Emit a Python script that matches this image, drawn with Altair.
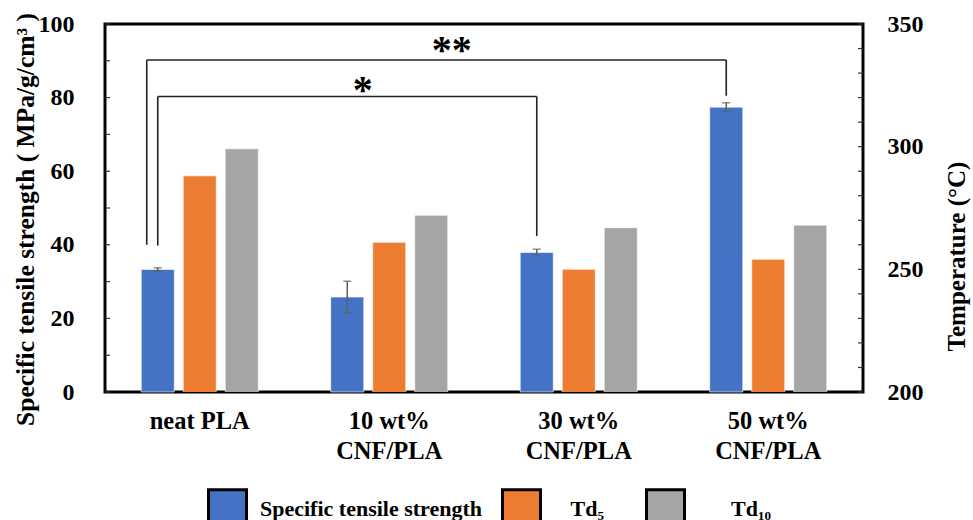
import altair as alt
import pandas as pd

# ---------------- data ----------------
categories = ["neat PLA", "10 wt%|CNF/PLA", "30 wt%|CNF/PLA", "50 wt%|CNF/PLA"]
series_names = ["Specific tensile strength", "Td₅", "Td₁₀"]
series_colors = ["#4472C4", "#ED7D31", "#A5A5A5"]

strength = [33.3, 25.8, 37.9, 77.4]
strength_err = [0.45, 4.3, 0.9, 1.2]
td5 = [288.1, 261.0, 250.0, 254.1]
td10 = [299.1, 272.0, 267.0, 268.0]

left_tick_values = [0, 10, 20, 30, 40, 50, 60, 70, 80, 90, 100]
left_label_values = [0, 20, 40, 60, 80, 100]
right_tick_values = [200, 210, 220, 230, 240, 250, 260, 270, 280, 290, 300, 310, 320, 330, 340, 350]
right_label_values = [200, 250, 300, 350]

bracket_from = ["neat PLA", "neat PLA"]
bracket_to = ["50 wt%|CNF/PLA", "30 wt%|CNF/PLA"]
bracket_top = [90.2, 80.3]
bracket_left_base = [40.0, 39.8]
bracket_right_base = [80.5, 42.4]
bracket_label = ["**", "*"]

# ---------------- layout / style ----------------
FONT = "Liberation Serif"
W, H = 758, 368
PAD_L, PAD_T = 105, 24
BAR_STEP = 42            # distance between bar centres inside a group (px)
bracket_left_dx = [-53, -42]
bracket_label_dx = [252, 163]
bracket_label_dy = [-3, 1]

blue_df = pd.DataFrame({
    "category": categories,
    "series": series_names[0],
    "value": strength,
    "err": strength_err,
})
td_df = pd.DataFrame({
    "category": categories * 2,
    "series": [series_names[1]] * 4 + [series_names[2]] * 4,
    "value": td5 + td10,
})
br_df = pd.DataFrame({
    "from": bracket_from,
    "to": bracket_to,
    "top": bracket_top,
    "lbase": bracket_left_base,
    "rbase": bracket_right_base,
    "label": bracket_label,
})
lt_df = pd.DataFrame({"v": left_tick_values})
rt_df = pd.DataFrame({"v": right_tick_values})

# legend label padding (zero-width space guards so the no-break spaces are not trimmed)
nb = "\u00a0"
zw = "\u200b"
legend = alt.Legend(
    title=None, orient="none", direction="horizontal",
    legendX=207 - PAD_L, legendY=488 - PAD_T,
    symbolType="square", symbolSize=38 * 38,
    symbolStrokeColor="black", symbolStrokeWidth=3,
    labelFont=FONT, labelFontSize=22, labelFontWeight="bold", labelColor="black",
    labelOffset=12, columnPadding=13, labelLimit=500, padding=0,
    labelExpr=(
        f"datum.label == '{series_names[1]}' ? '{zw}{nb*3}{series_names[1]}{nb*4}{zw}' : "
        f"datum.label == '{series_names[2]}' ? '{zw}{nb*6}{series_names[2]}' : datum.label"
    ),
)

x_scale = alt.Scale(domain=categories, paddingInner=0, paddingOuter=0)
x_axis = alt.Axis(
    title=None, labelExpr="split(datum.label, '|')", labelFont=FONT,
    labelFontSize=24.5, labelFontWeight="bold", labelColor="black",
    labelLineHeight=30, labelPadding=17, ticks=False, domain=False,
    labelAngle=0, labelLimit=300, grid=False,
)
x_enc = alt.X("category:N", sort=categories, scale=x_scale, axis=x_axis)
xoff_enc = alt.XOffset(
    "series:N", sort=series_names,
    scale=alt.Scale(domain=series_names, paddingInner=0.214, paddingOuter=0.863),
)
color_scale = alt.Scale(domain=series_names, range=series_colors)

y_left_scale = alt.Scale(domain=[0, 100], nice=False)
y_left_axis = alt.Axis(
    values=left_label_values, title="Specific tensile strength ( MPa/g/cm³ )",
    labelFont=FONT, labelFontSize=24, labelFontWeight="bold", labelColor="black",
    labelPadding=31, ticks=False, domain=False, grid=False,
    titleFont=FONT, titleFontSize=25.5, titleFontWeight="bold", titleColor="black",
    titlePadding=0, titleY=195,
)

# ---------------- left group ----------------
blue_bars = alt.Chart(blue_df).mark_bar(
    stroke="white", strokeWidth=1, strokeOpacity=0.6
).encode(
    x=x_enc, xOffset=xoff_enc,
    y=alt.Y("value:Q", scale=y_left_scale, axis=y_left_axis),
    color=alt.Color("series:N", sort=series_names, scale=color_scale, legend=legend),
)

x_plain = alt.X("category:N", sort=categories, scale=x_scale)
err_base = alt.Chart(blue_df).transform_calculate(
    lo="datum.value - datum.err", hi="datum.value + datum.err"
)
err_rule = err_base.mark_rule(color="#606060", strokeWidth=1.5).encode(
    x=x_plain, xOffset=xoff_enc,
    y=alt.Y("lo:Q", scale=y_left_scale),
    y2="hi:Q",
)
err_lo = err_base.mark_tick(color="#606060", thickness=1.5, size=8).encode(
    x=x_plain, xOffset=xoff_enc,
    y=alt.Y("lo:Q", scale=y_left_scale),
)
err_hi = err_base.mark_tick(color="#606060", thickness=1.5, size=8).encode(
    x=x_plain, xOffset=xoff_enc,
    y=alt.Y("hi:Q", scale=y_left_scale),
)

bracket_layers = []
for i in range(len(bracket_from)):
    d = br_df.iloc[[i]]
    bx = alt.Chart(d)
    bracket_layers.append(
        bx.mark_rule(color="#222222", strokeWidth=1.6,
                     xOffset=bracket_left_dx[i], x2Offset=-BAR_STEP).encode(
            x=alt.X("from:N", scale=x_scale),
            x2="to:N",
            y=alt.Y("top:Q", scale=y_left_scale),
        )
    )
    bracket_layers.append(
        bx.mark_rule(color="#222222", strokeWidth=1.6, xOffset=bracket_left_dx[i]).encode(
            x=alt.X("from:N", scale=x_scale),
            y=alt.Y("lbase:Q", scale=y_left_scale),
            y2="top:Q",
        )
    )
    bracket_layers.append(
        bx.mark_rule(color="#222222", strokeWidth=1.6, xOffset=-BAR_STEP).encode(
            x=alt.X("to:N", scale=x_scale),
            y=alt.Y("rbase:Q", scale=y_left_scale),
            y2="top:Q",
        )
    )
    bracket_layers.append(
        bx.mark_text(font=FONT, fontSize=40, fontWeight="bold", color="black",
                     baseline="bottom",
                     dx=bracket_label_dx[i], dy=bracket_label_dy[i] + 14).encode(
            x=alt.X("from:N", scale=x_scale),
            y=alt.Y("top:Q", scale=y_left_scale),
            text="label:N",
        )
    )

left_ticks = alt.Chart(lt_df).mark_rule(color="#333333", strokeWidth=1.2).encode(
    y=alt.Y("v:Q", scale=y_left_scale),
    x=alt.value(0), x2=alt.value(5),
)

left_group = alt.layer(blue_bars, err_rule, err_lo, err_hi, *bracket_layers, left_ticks)

# ---------------- right group ----------------
y_right_scale = alt.Scale(domain=[200, 350], nice=False, zero=False)
y_right_axis = alt.Axis(
    orient="right", values=right_label_values, title="Temperature (°C)",
    labelFont=FONT, labelFontSize=24, labelFontWeight="bold", labelColor="black",
    labelPadding=24, ticks=False, domain=False, grid=False,
    titleFont=FONT, titleFontSize=25, titleFontWeight="bold", titleColor="black",
    titleAngle=270, titleBaseline="top", titlePadding=21, titleY=232,
)

td_bars = alt.Chart(td_df).mark_bar(
    stroke="white", strokeWidth=1, strokeOpacity=0.6, clip=True
).encode(
    x=x_enc, xOffset=xoff_enc,
    y=alt.Y("value:Q", scale=y_right_scale, axis=y_right_axis),
    color=alt.Color("series:N", sort=series_names, scale=color_scale, legend=None),
)
right_ticks = alt.Chart(rt_df).mark_rule(color="#333333", strokeWidth=1.2).encode(
    y=alt.Y("v:Q", scale=y_right_scale),
    x=alt.value(W - 5), x2=alt.value(W),
)
right_group = alt.layer(td_bars, right_ticks)

chart = alt.layer(left_group, right_group).resolve_scale(
    y="independent"
).properties(
    width=W, height=H,
    autosize=alt.AutoSizeParams(type="none"),
    padding={"left": PAD_L, "top": PAD_T, "right": 973 - PAD_L - W, "bottom": 520 - PAD_T - H},
    background="white",
).configure_view(stroke="black", strokeWidth=3)

chart.save("out.html", embed_options={"renderer": "svg", "actions": False})
